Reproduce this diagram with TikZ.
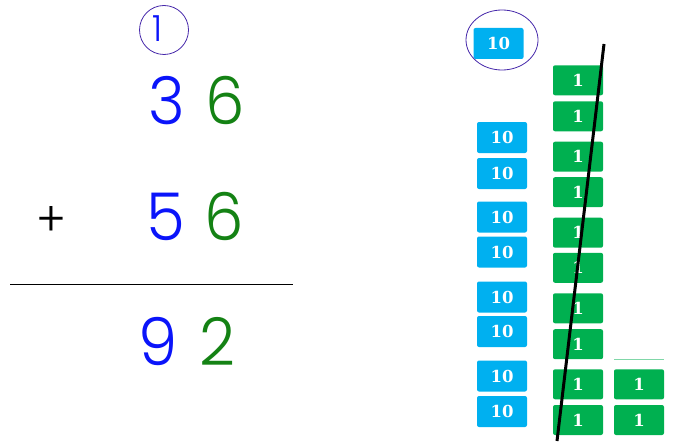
\documentclass[tikz,border=0pt]{standalone}
\usepackage{fontspec}
\usetikzlibrary{shapes.geometric}
\newfontfamily\handfont{Poppins Light}[FakeStretch=0.95]
\newfontfamily\tilefont{DejaVu Serif}
\definecolor{hblue}{RGB}{10,20,250}
\definecolor{hgreen}{RGB}{20,130,20}
\definecolor{tblue}{RGB}{0,176,240}
\definecolor{tgreen}{RGB}{0,176,80}
\definecolor{ring}{RGB}{70,40,170}
\tikzset{
  hand/.style={inner sep=0pt, anchor=base, font=\handfont\fontsize{66}{66}\selectfont},
  tenbox/.style={fill=tblue, rounded corners=2pt, minimum width=50pt, minimum height=31pt, inner sep=0pt, text=white, font=\tilefont\bfseries\fontsize{16.5}{16.5}\selectfont},
  onebox/.style={fill=tgreen, rounded corners=2pt, minimum width=50pt, minimum height=30pt, inner sep=0pt, text=white, font=\tilefont\bfseries\fontsize{16.5}{16.5}\selectfont},
  ringstyle/.style={draw=ring, line width=0.8pt}
}
\begin{document}
\begin{tikzpicture}[x=1pt,y=-1pt]
\useasboundingbox (0,0) rectangle (676,441);
% left: column addition
\node[ringstyle, circle, minimum size=49pt, inner sep=0pt] (c1) at (164,30) {};
\node[hand, text=hblue, font=\handfont\fontsize{36}{36}\selectfont] (one) at (157,41.5) {1};
\node[hand, text=hblue] (a3) at (167,124) {3};
\node[hand, text=hgreen] (a6) at (225,124) {6};
\node[hand, text=black, font=\handfont\fontsize{48}{48}\selectfont] (plus) at (51,236) {+};
\node[hand, text=hblue] (b5) at (166,240) {5};
\node[hand, text=hgreen] (b6) at (224,240) {6};
\coordinate (l1) at (10,284.3);
\coordinate (l2) at (293.3,284.3);
\draw[line width=1pt] (l1) -- (l2);
\node[hand, text=hblue] (r9) at (158,365) {9};
\node[hand, text=hgreen] (r2) at (217,365) {2};
% right: blocks
\node[tenbox] (t0) at (498.5,43.5) {10};
\node[ringstyle, ellipse, minimum width=72pt, minimum height=60pt, inner sep=0pt] (e0) at (502,40) {};
\node[tenbox] (t1) at (502,137.5) {10};
\node[tenbox] (t2) at (502,173.5) {10};
\node[tenbox] (t3) at (502,217) {10};
\node[tenbox] (t4) at (502,252) {10};
\node[tenbox] (t5) at (502,297) {10};
\node[tenbox] (t6) at (502,331.5) {10};
\node[tenbox] (t7) at (502,376) {10};
\node[tenbox] (t8) at (502,411.5) {10};
\node[onebox] (g1) at (578,80.3) {1};
\node[onebox] (g2) at (578,116.3) {1};
\node[onebox] (g3) at (578,156.7) {1};
\node[onebox] (g4) at (578,192.2) {1};
\node[onebox] (g5) at (578,232.7) {1};
\node[onebox] (g6) at (578,267.8) {1};
\node[onebox] (g7) at (578,308.3) {1};
\node[onebox] (g8) at (578,344.2) {1};
\node[onebox] (g9) at (578,384.3) {1};
\node[onebox] (g10) at (578,420) {1};
\node[onebox] (h1) at (639,384.3) {1};
\node[onebox] (h2) at (639,420) {1};
\coordinate (s1) at (614.3,359.3);
\coordinate (s2) at (664,359.3);
\draw[draw=tgreen!50, line width=0.6pt] (s1) -- (s2);
\coordinate (d1) at (604,44);
\coordinate (d2) at (557,441);
\draw[line width=3pt] (d1) -- (d2);
\end{tikzpicture}
\end{document}
